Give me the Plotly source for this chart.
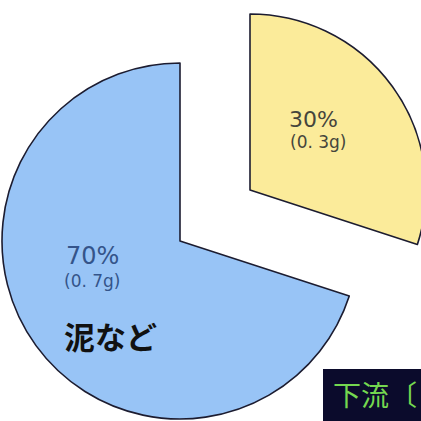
import plotly.graph_objects as go

# ---- data ----
labels = ["その他", "泥など"]
values = [30, 70]
grams = [0.3, 0.7]
slice_colors = ["#fbeb9a", "#98c4f6"]
corner_label = "下流〔"

W, H = 440, 421


def px(x):
    return x / W


def py(y):
    return 1 - y / H


def dom(cx, cy, r):
    return dict(x=[px(cx - r), px(cx + r)], y=[py(cy + r), py(cy - r)])


outline = "#1c1c30"
clear = "rgba(0,0,0,0)"

fig = go.Figure()
# exploded (yellow) slice
fig.add_trace(go.Pie(
    labels=labels, values=values, sort=False, direction="clockwise", rotation=0,
    marker=dict(colors=[slice_colors[0], clear], line=dict(color=[outline, clear], width=1.6)),
    textinfo="none", hoverinfo="skip", showlegend=False, domain=dom(250, 190, 176),
))
# main (blue) slice
fig.add_trace(go.Pie(
    labels=labels, values=values, sort=False, direction="clockwise", rotation=0,
    marker=dict(colors=[clear, slice_colors[1]], line=dict(color=[clear, outline], width=1.6)),
    textinfo="none", hoverinfo="skip", showlegend=False, domain=dom(180, 241, 178),
))

font_jp = "Noto Sans CJK JP"
font_lat = "DejaVu Sans"
pct = [f"{v}%" for v in values]
grm = [f"({g}g)".replace(".", ". ") for g in grams]

ann = [
    dict(x=px(313), y=py(119), text=pct[0], height=20,
         font=dict(family=font_lat, size=22, color="#45453c")),
    dict(x=px(318), y=py(141), text=grm[0], height=21,
         font=dict(family=font_lat, size=17, color="#45453c")),
    dict(x=px(92), y=py(256), text=pct[1], height=22,
         font=dict(family=font_lat, size=24, color="#34548a")),
    dict(x=px(92), y=py(280), text=grm[1], height=21,
         font=dict(family=font_lat, size=17, color="#34548a")),
    dict(x=px(110), y=py(335), text=labels[1], font=dict(family=font_jp, size=31, color="#111111", weight="bold")),
    dict(x=px(331), y=py(394), text=corner_label, xanchor="left",
         font=dict(family=font_jp, size=28, color="#74d850")),
]
for a in ann:
    a.setdefault("xanchor", "center")
    a.update(xref="paper", yref="paper", yanchor="middle", showarrow=False)

fig.update_layout(
    width=W, height=H, margin=dict(l=0, r=0, t=0, b=0),
    paper_bgcolor="white", plot_bgcolor="white",
    annotations=ann,
    shapes=[dict(type="rect", xref="paper", yref="paper", x0=px(323), x1=1, y0=0, y1=py(369),
                 fillcolor="#0b0b2c", line=dict(width=0), layer="below")],
)

fig.write_html("out.html", post_script="document.documentElement.style.overflow='hidden';document.body.style.overflow='hidden';")
